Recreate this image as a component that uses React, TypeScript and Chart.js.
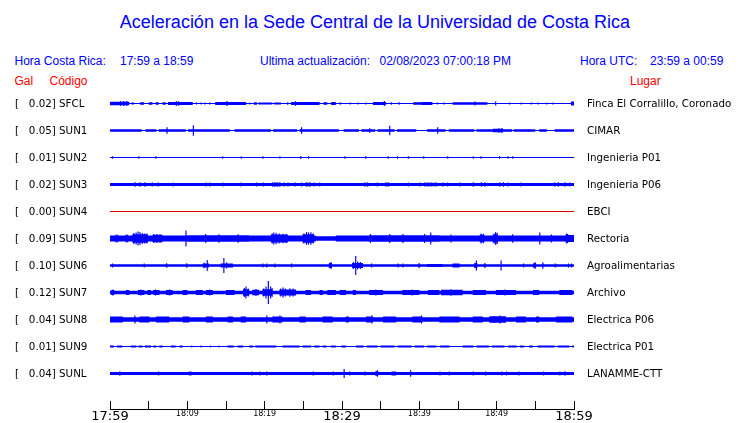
import { useEffect, useRef } from 'react';
import { Chart, registerables } from 'chart.js';

Chart.register(...registerables);

// ---------- data ----------
const STATIONS = ['SFCL', 'SUN1', 'SUN2', 'SUN3', 'SUN4', 'SUN5', 'SUN6', 'SUN7', 'SUN8', 'SUN9', 'SUNL'];
const GAL = ['0.02', '0.05', '0.01', '0.02', '0.00', '0.09', '0.10', '0.12', '0.04', '0.01', '0.04'];
const PLACES = [
  'Finca El Corralillo, Coronado', 'CIMAR', 'Ingenieria P01', 'Ingenieria P06', 'EBCI', 'Rectoria',
  'Agroalimentarias', 'Archivo', 'Electrica P06', 'Electrica P01', 'LANAMME-CTT',
];
const TIME_TICKS = ['17:59', '', '18:09', '', '18:19', '', '18:29', '', '18:39', '', '18:49', '', '18:59'];
const MAJOR_TICKS = ['17:59', '18:29', '18:59'];
const WINDOW_MINUTES = 60;

// Envelope of each trace (half amplitude, display units; 27 units = spacing between traces)
// bands: [start minute, end minute, amplitude]; spikes: [minute, amplitude]
const SFCL_BASE = 0.6;
const SFCL_BANDS = [
  [0, 2.5, 1.8], [2.85, 3.05, 1.2], [3.9, 4.4, 1.2], [5.0, 5.5, 1.2], [5.9, 6.3, 1.2],
  [6.8, 7.2, 1.2], [7.5, 10.7, 1.4], [13.6, 17.6, 1.4], [18.6, 19.0, 1.2],
  [19.2, 21.0, 1.1], [21.2, 22.1, 1.0], [23.4, 27.1, 1.4], [27.6, 28.1, 1.3], [28.6, 29.2, 1.4],
  [34.0, 35.7, 1.4], [39.2, 41.7, 1.3], [40.3, 41.7, 1.5], [44.3, 48.8, 1.3], [59.6, 60, 2.0],
];
const SFCL_SPIKES = [
  [1.3, 2.6], [1.7, 2.4], [2.1, 2.6], [8.5, 2.5], [8.8, 2.3], [11.1, 1.0], [11.7, 1.0], [12.2, 1.0], [12.8, 1.0],
  [15.05, 2.6], [18.0, 1.0], [22.9, 1.2], [23.9, 2.2], [29.7, 1.2], [31.0, 1.0], [32.0, 1.0], [33.0, 1.0],
  [35.4, 2.5], [36.3, 1.2], [37.3, 1.2], [42.3, 1.0], [43.1, 1.0], [47.1, 2.0], [49.8, 2.0], [51.6, 1.0],
  [53.1, 1.0], [54.4, 1.0], [55.3, 1.0], [56.4, 1.0], [57.2, 1.0],
];

const SUN1_BASE = 0.5;
const SUN1_BANDS = [
  [0, 4.1, 1.3], [4.6, 6.0, 1.3], [6.3, 9.8, 1.3], [10.1, 15.5, 1.3], [16.1, 20.8, 1.3], [21.1, 24.2, 1.3],
  [24.5, 29.6, 1.3], [30.2, 32.2, 1.3], [32.5, 34.3, 1.3], [34.6, 36.8, 1.3], [37.1, 39.6, 1.3], [41.0, 43.4, 1.3],
  [43.8, 47.1, 1.3], [47.4, 52.0, 1.3], [52.2, 55.0, 1.3], [55.5, 56.5, 1.3], [57.5, 60, 1.3], [49.5, 50.8, 1.7],
];
const SUN1_SPIKES = [[7.3, 3.3], [10.7, 5.3], [24.7, 3.3], [33.5, 2.2], [36.1, 4.7], [42.3, 3.3], [50.2, 2.3], [50.6, 2.5]];

const SUN2_BASE = 0.5;
const SUN2_BANDS: number[][] = [];
const SUN2_SPIKES = [
  [0.26, 1.2], [3.66, 1.2], [5.86, 1.2], [14.5, 1.2], [16.9, 1.2], [19.7, 1.2], [21.9, 1.2], [24.6, 1.4],
  [25.6, 1.2], [30.3, 1.2], [33.0, 1.2], [35.9, 1.2], [37.1, 1.2], [38.5, 1.2], [40.5, 1.2], [43.6, 1.2],
  [46.9, 1.2], [47.9, 1.2], [50.3, 1.2], [51.4, 1.2], [52.0, 1.2],
];

const SUN3_BASE = 1.4;
const SUN3_BANDS = [[20.9, 22.0, 1.8], [25.3, 25.8, 1.8], [40.6, 42.2, 1.7]];
const SUN3_SPIKES = [
  [3.15, 2.2], [3.79, 2.2], [4.44, 2.2], [5.39, 2.0], [6.16, 2.0], [8.1, 2.0], [12.33, 2.0], [12.84, 2.0],
  [14.53, 2.0], [16.85, 2.0], [18.88, 2.0], [19.74, 2.0], [20.95, 2.2], [21.25, 2.2], [21.55, 2.2], [21.9, 2.2],
  [22.46, 2.0], [22.97, 2.0], [23.84, 2.0], [24.7, 2.0], [25.34, 2.2], [25.78, 2.2], [26.29, 2.0], [27.07, 2.0],
  [32.89, 2.2], [33.23, 2.2], [34.48, 2.0], [35.6, 2.2], [35.9, 2.2], [38.49, 2.0], [40.0, 2.0], [40.65, 2.0],
  [41.08, 2.0], [41.51, 2.0], [42.16, 2.0], [43.0, 2.0], [43.6, 2.0], [45.17, 2.0], [46.9, 2.2], [47.97, 2.2],
  [48.4, 2.2], [50.34, 2.2], [50.78, 2.2], [51.4, 2.0], [53.06, 2.0], [57.46, 2.2], [57.9, 2.2], [58.75, 2.2],
  [59.4, 2.0],
];

const SUN4_BASE = 0.5;
const SUN4_BANDS: number[][] = [];
const SUN4_SPIKES: number[][] = [];

const SUN5_BASE = 2.3;
const SUN5_BANDS = [
  [0, 26.6, 3.0], [29.2, 60, 3.0], [2.9, 4.9, 4.2], [5.5, 6.8, 3.7], [10.0, 18.0, 3.2], [20.8, 23.0, 3.9],
  [24.9, 26.4, 4.2], [33.5, 42.6, 3.2], [47.8, 48.4, 3.8], [49.5, 50.1, 4.0], [58.9, 59.2, 3.8], [59.2, 60, 3.4],
];
const SUN5_SPIKES = [
  [0.7, 4.0], [0.9, 3.8], [2.0, 4.0], [2.2, 3.8], [3.0, 5.5], [3.3, 6.0], [3.55, 7.0], [3.8, 6.5], [4.1, 5.5],
  [4.4, 5.0], [4.7, 5.0], [5.6, 4.5], [6.0, 4.5], [6.4, 4.3], [9.75, 8.0], [12.3, 4.5], [14.0, 4.2], [16.5, 4.2],
  [20.9, 5.0], [21.1, 6.0], [21.4, 5.8], [21.8, 5.0], [22.3, 4.8], [22.7, 4.5], [25.0, 5.0], [25.35, 6.5],
  [25.6, 6.0], [25.9, 6.3], [26.2, 5.0], [33.6, 4.5], [36.1, 4.5], [37.8, 4.5], [40.6, 4.5], [41.4, 6.0],
  [44.0, 4.0], [47.9, 5.0], [48.2, 4.8], [49.6, 5.0], [49.8, 6.5], [50.0, 5.5], [52.0, 4.2], [55.5, 6.0],
  [57.0, 4.0], [58.95, 5.0], [59.1, 4.5],
];

const SUN6_BASE = 1.3;
const SUN6_BANDS = [
  [12.0, 12.8, 2.0], [14.3, 15.9, 2.1], [28.3, 28.7, 2.4], [31.3, 32.7, 2.6], [41.0, 43.0, 1.6],
  [44.3, 45.2, 1.9], [47.1, 47.5, 2.4], [54.7, 55.1, 2.3],
];
const SUN6_SPIKES = [
  [0.26, 2.0], [4.35, 2.0], [7.24, 2.3], [9.83, 2.3], [12.1, 2.8], [12.5, 5.5], [14.66, 7.5], [15.0, 3.0],
  [19.7, 2.0], [20.2, 2.0], [21.25, 2.0], [23.4, 2.0], [28.5, 3.5], [31.4, 3.5], [31.7, 9.5], [31.95, 4.0],
  [32.3, 3.5], [33.75, 2.0], [37.2, 2.0], [37.8, 2.0], [39.9, 2.5], [47.3, 5.0], [48.4, 2.5], [50.5, 5.0],
  [53.4, 2.0], [54.9, 3.3], [55.9, 3.3], [57.5, 2.0], [59.2, 2.0], [59.6, 2.0],
];

const SUN7_BASE = 1.7;
const SUN7_BANDS = [
  [0.13, 0.56, 2.5], [2.07, 2.5, 2.5], [3.58, 4.44, 2.5], [4.87, 5.3, 2.5], [5.6, 6.38, 2.5], [7.24, 8.1, 2.5],
  [9.4, 10.0, 2.5], [11.1, 12.0, 2.5], [12.4, 13.3, 2.5], [15.0, 16.1, 2.4], [17.2, 18.0, 3.2],
  [18.4, 19.3, 2.8], [19.7, 21.0, 3.2], [21.9, 24.05, 3.0], [25.3, 26.0, 2.5], [27.1, 27.5, 2.5], [28.1, 29.2, 2.5],
  [29.7, 30.5, 2.5], [31.4, 31.8, 2.5], [33.5, 35.3, 2.5], [37.8, 40.0, 2.5], [41.1, 42.6, 2.5], [42.8, 45.6, 2.7],
  [46.9, 48.6, 2.5], [49.9, 52.5, 2.5], [54.7, 55.5, 2.5], [58.1, 59.8, 2.5],
];
const SUN7_SPIKES = [
  [0.3, 3.0], [3.9, 3.0], [5.8, 3.0], [7.6, 3.0], [12.8, 3.0], [17.3, 4.5], [17.5, 6.0], [17.8, 4.0],
  [18.8, 3.5], [19.8, 4.0], [20.1, 6.0], [20.4, 11.5], [20.7, 6.0], [20.9, 4.2], [22.0, 4.0], [22.3, 5.0],
  [22.6, 4.0], [23.2, 4.2], [23.6, 4.0], [34.3, 3.0], [39.0, 3.0], [44.0, 3.2], [51.0, 3.0],
];

const SUN8_BASE = 2.3;
const SUN8_BANDS = [
  [0, 1.64, 2.9], [3.8, 5.1, 2.9], [5.95, 7.67, 2.9], [9.4, 10.26, 2.9], [12.4, 13.3, 2.9], [15.2, 15.9, 2.9],
  [16.9, 17.6, 2.9], [21.0, 22.3, 2.9], [24.5, 25.3, 2.9], [27.5, 28.8, 2.9], [30.5, 30.9, 2.9], [33.1, 34.0, 2.9],
  [35.3, 37.0, 2.9], [39.1, 40.4, 2.9], [42.6, 45.2, 2.9], [46.9, 48.2, 2.9], [49.05, 51.2, 3.2], [52.5, 53.8, 2.9],
  [55.1, 55.5, 2.9], [57.7, 59.8, 2.9],
];
const SUN8_SPIKES = [[3.15, 4.0], [20.2, 4.0], [21.9, 4.0], [33.8, 4.0], [40.2, 4.0], [50.34, 4.0], [49.6, 3.6]];

const SUN9_BASE = 0.5;
const SUN9_BANDS = [
  [0.0, 0.5, 0.9], [0.9, 1.6, 0.9], [2.7, 3.4, 0.9], [3.7, 4.2, 0.9], [4.5, 5.3, 0.9], [5.6, 6.0, 0.9],
  [6.4, 6.8, 0.9], [7.9, 8.5, 0.9], [9.0, 9.4, 0.9], [15.2, 16.0, 0.9], [16.5, 17.2, 0.9], [18.0, 18.5, 0.9],
  [18.8, 21.5, 0.9], [22.3, 24.5, 0.9], [24.9, 26.0, 0.9], [26.4, 27.1, 0.9], [27.5, 28.0, 0.9], [28.6, 29.2, 0.9],
  [29.9, 30.5, 0.9], [31.8, 32.8, 0.9], [33.2, 34.6, 0.9], [35.0, 36.8, 0.9], [37.2, 39.0, 0.9], [39.4, 40.6, 0.9],
  [41.0, 42.2, 0.9], [42.7, 43.9, 0.9], [45.6, 47.0, 0.9], [47.4, 49.0, 0.9], [49.4, 51.0, 0.9], [51.5, 52.6, 0.9],
  [53.0, 53.5, 0.9], [54.2, 54.7, 0.9], [55.3, 57.5, 0.9], [57.9, 59.4, 0.9],
];
const SUN9_SPIKES = [[10.5, 1.1], [11.7, 1.1], [12.9, 1.1], [14.0, 1.1], [59.8, 1.2]];

const SUNL_BASE = 1.5;
const SUNL_BANDS = [[34.3, 34.7, 2.2], [36.4, 37.0, 1.9]];
const SUNL_SPIKES = [
  [1.2, 2.3], [6.2, 2.0], [10.2, 2.0], [10.4, 2.0], [18.3, 2.0], [19.3, 2.0], [20.2, 2.0], [26.2, 2.0],
  [28.8, 2.0], [30.2, 4.5], [30.9, 2.0], [32.9, 2.0], [34.5, 3.3], [38.8, 3.3], [42.6, 2.0], [43.8, 2.0],
  [46.9, 2.0], [48.5, 2.0], [50.6, 2.0], [51.2, 2.0], [52.8, 2.0], [56.0, 2.0], [58.1, 2.0], [58.75, 2.3],
];

const TRACE_BASE = [SFCL_BASE, SUN1_BASE, SUN2_BASE, SUN3_BASE, SUN4_BASE, SUN5_BASE, SUN6_BASE, SUN7_BASE, SUN8_BASE, SUN9_BASE, SUNL_BASE];
const TRACE_BANDS = [SFCL_BANDS, SUN1_BANDS, SUN2_BANDS, SUN3_BANDS, SUN4_BANDS, SUN5_BANDS, SUN6_BANDS, SUN7_BANDS, SUN8_BANDS, SUN9_BANDS, SUNL_BANDS];
const TRACE_SPIKES = [SFCL_SPIKES, SUN1_SPIKES, SUN2_SPIKES, SUN3_SPIKES, SUN4_SPIKES, SUN5_SPIKES, SUN6_SPIKES, SUN7_SPIKES, SUN8_SPIKES, SUN9_SPIKES, SUNL_SPIKES];

// ---------- styles ----------
const BLUE = '#0000ff';
const RED = '#ff0000';
const TRACE_COLORS = STATIONS.map((s) => (s === 'SUN4' ? '#dd0000' : BLUE));
const AMP_PER_TRACE = 27;
const RES = 20; // envelope samples per minute
const SPIKE_W = 0.15; // minutes

function buildEnvelope(base: number, bands: number[][], spikes: number[][]) {
  const n = WINDOW_MINUTES * RES;
  const amp = new Array(n).fill(base);
  const apply = (s: number, e: number, a: number) => {
    const k0 = Math.max(0, Math.round(s * RES));
    const k1 = Math.min(n, Math.max(k0 + 1, Math.round(e * RES)));
    for (let k = k0; k < k1; k++) amp[k] = Math.max(amp[k], a);
  };
  bands.forEach(([s, e, a]) => apply(s, e, a));
  spikes.forEach(([m, a]) => apply(m, m + SPIKE_W, a));
  const pts: { x: number; a: number }[] = [];
  for (let k = 0; k < n; k++) if (k === 0 || amp[k] !== amp[k - 1]) pts.push({ x: k / RES, a: amp[k] });
  pts.push({ x: WINDOW_MINUTES, a: amp[n - 1] });
  return pts;
}

export default function App() {
  const mainRef = useRef<HTMLCanvasElement>(null);
  const axisRef = useRef<HTMLCanvasElement>(null);

  useEffect(() => {
    const datasets: any[] = [];
    STATIONS.forEach((_, i) => {
      const env = buildEnvelope(TRACE_BASE[i], TRACE_BANDS[i], TRACE_SPIKES[i]);
      const common = {
        type: 'line',
        stepped: true,
        borderWidth: 0,
        pointRadius: 0,
        tension: 0,
        yAxisID: 'y',
      };
      datasets.push({
        ...common,
        label: STATIONS[i] + ' +',
        data: env.map((p) => ({ x: p.x, y: i - p.a / AMP_PER_TRACE })),
        fill: false,
      });
      datasets.push({
        ...common,
        label: STATIONS[i] + ' -',
        data: env.map((p) => ({ x: p.x, y: i + p.a / AMP_PER_TRACE })),
        fill: '-1',
        backgroundColor: TRACE_COLORS[i],
        borderColor: TRACE_COLORS[i],
      });
    });

    const labelFont = { family: 'DejaVu Sans', size: 10.3 };
    const main = new Chart(mainRef.current!, {
      type: 'line',
      data: { datasets },
      options: {
        animation: false,
        responsive: false,
        events: [],
        devicePixelRatio: 1,
        layout: { padding: { left: 15, right: 0, top: 76.5, bottom: 22.5 } },
        plugins: { legend: { display: false }, tooltip: { enabled: false } },
        scales: {
          x: { type: 'linear', display: false, min: 0, max: WINDOW_MINUTES },
          y: {
            type: 'linear',
            position: 'left',
            reverse: true,
            min: -1,
            max: STATIONS.length,
            grid: { display: false, drawTicks: false },
            border: { display: false },
            afterFit: (s: any) => { s.width = 95; },
            ticks: {
              stepSize: 1,
              autoSkip: false,
              crossAlign: 'far',
              labelOffset: 0.8,
              color: '#000',
              font: labelFont,
              callback: (v: any) => (Number.isInteger(v) && v >= 0 && v < STATIONS.length ? `[   ${GAL[v]}] ${STATIONS[v]}` : ''),
            },
          },
          y2: {
            type: 'linear',
            position: 'right',
            reverse: true,
            min: -1,
            max: STATIONS.length,
            grid: { display: false, drawTicks: false },
            border: { display: false },
            afterFit: (s: any) => { s.width = 166; },
            ticks: {
              stepSize: 1,
              autoSkip: false,
              padding: 13,
              labelOffset: 0.8,
              color: '#000',
              font: labelFont,
              callback: (v: any) => (Number.isInteger(v) && v >= 0 && v < PLACES.length ? PLACES[v] : ''),
            },
          },
        },
      } as any,
    } as any);

    const axis = new Chart(axisRef.current!, {
      type: 'line',
      data: { datasets: [] },
      options: {
        animation: false,
        responsive: false,
        events: [],
        devicePixelRatio: 1,
        layout: { padding: { left: 110, right: 166, top: 401, bottom: 0 } },
        plugins: { legend: { display: false }, tooltip: { enabled: false } },
        scales: {
          x: {
            type: 'linear',
            min: 0,
            max: WINDOW_MINUTES,
            afterFit: (s: any) => { s.height = 14; },
            grid: { drawOnChartArea: true, drawTicks: false, color: '#000', lineWidth: 1 },
            border: { display: true, color: '#000', width: 1 },
            ticks: {
              stepSize: 5,
              autoSkip: false,
              maxRotation: 0,
              padding: 0,
              color: '#000',
              callback: (v: any) => TIME_TICKS[Math.round(v / 5)] ?? '',
              font: (ctx: any) => ({
                family: 'DejaVu Sans',
                size: MAJOR_TICKS.includes(TIME_TICKS[ctx.index]) ? 13 : 8,
              }),
            },
          },
          y: { display: false, min: 0, max: 1 },
        },
      } as any,
    } as any);

    return () => {
      main.destroy();
      axis.destroy();
    };
  }, []);

  const txt = (left: number, top: number, color: string, size: number, s: string, extra: any = {}) => (
    <div
      style={{
        position: 'absolute',
        left,
        top,
        color,
        fontFamily: '"Liberation Sans", Arial, sans-serif',
        fontSize: size,
        lineHeight: `${size}px`,
        whiteSpace: 'pre',
        ...extra,
      }}
    >
      {s}
    </div>
  );

  return (
    <div style={{ position: 'fixed', left: 0, top: 0, width: 740, height: 423, background: '#fff', overflow: 'hidden' }}>
      {txt(5, 13.2, BLUE, 18, 'Aceleración en la Sede Central de la Universidad de Costa Rica', { width: 740, textAlign: 'center' })}
      {txt(14.5, 54.8, BLUE, 12, 'Hora Costa Rica:')}
      {txt(120, 54.8, BLUE, 12, '17:59 a 18:59')}
      {txt(260, 54.8, BLUE, 12, 'Ultima actualización:')}
      {txt(379.5, 54.8, BLUE, 12, '02/08/2023 07:00:18 PM')}
      {txt(580, 54.8, BLUE, 12, 'Hora UTC:')}
      {txt(650, 54.8, BLUE, 12, '23:59 a 00:59')}
      {txt(14.5, 74.8, RED, 12, 'Gal')}
      {txt(49.5, 74.8, RED, 12, 'Código')}
      {txt(630, 74.8, RED, 12, 'Lugar')}
      <canvas ref={mainRef} width={740} height={423} style={{ position: 'absolute', left: 0, top: 0 }} />
      <canvas ref={axisRef} width={740} height={423} style={{ position: 'absolute', left: 0, top: 0 }} />
    </div>
  );
}
